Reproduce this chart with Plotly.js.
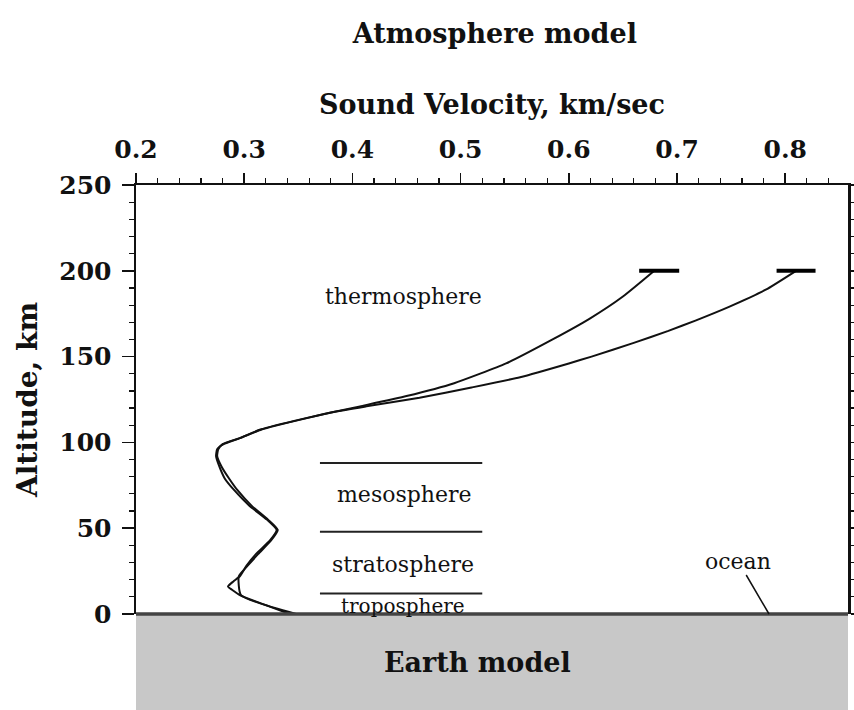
<!DOCTYPE html>
<html>
<head>
<meta charset="utf-8">
<script src="https://cdn.plot.ly/plotly-3.0.1.min.js"></script>
<style>
  html, body { margin: 0; padding: 0; background: #ffffff; }
  #chart { width: 854px; height: 710px; }
</style>
</head>
<body>
<div id="chart"></div>
<script>
// Sound velocity profiles of two atmosphere models (altitude in km, velocity in km/sec)
const altModelA = [0, 11, 14, 16, 19, 22, 28, 35, 43, 49, 55, 63, 72, 79, 86, 92, 96, 99, 102.5, 107.5, 114, 121, 127, 134.5, 146, 160, 172, 185, 200];
const velModelA = [0.342, 0.296, 0.289, 0.285, 0.290, 0.296, 0.302, 0.311, 0.324, 0.330, 0.321, 0.305, 0.291, 0.282, 0.277, 0.274, 0.275, 0.281, 0.296, 0.315, 0.356, 0.407, 0.450, 0.494, 0.542, 0.585, 0.619, 0.650, 0.679];

const altModelB = [0, 11, 22, 28, 35, 43, 49, 55, 63, 72, 79, 86, 92, 96, 99, 102.5, 107.5, 114, 118, 121, 126, 132, 138, 146, 150, 158, 165, 171, 179, 189, 200];
const velModelB = [0.348, 0.297, 0.295, 0.303, 0.313, 0.325, 0.331, 0.322, 0.307, 0.294, 0.286, 0.279, 0.275, 0.276, 0.280, 0.296, 0.316, 0.357, 0.385, 0.413, 0.462, 0.510, 0.555, 0.600, 0.621, 0.660, 0.692, 0.717, 0.748, 0.782, 0.810];

// Horizontal caps at the top of each profile
const capAlt = 200;
const capModelA = [0.665, 0.702];
const capModelB = [0.792, 0.828];

// Layer boundaries and layer names
const boundaryAlt = [88, 48, 12];
const boundaryVel = [0.37, 0.52];
const layerNames = ['thermosphere', 'mesosphere', 'stratosphere', 'troposphere'];
const layerLabelAlt = [185, 69.5, 28.7, 4.8];
const layerLabelVel = [0.447, 0.448, 0.447, 0.447];
const layerLabelSize = [22, 22, 22, 20];

// Sea surface pointer
const oceanVel = 0.785;
const oceanAlt = 0;

// Axis ticks
const velTicks = [0.2, 0.3, 0.4, 0.5, 0.6, 0.7, 0.8];
const velTickText = ['0.2', '0.3', '0.4', '0.5', '0.6', '0.7', '0.8'];
const altTicks = [0, 50, 100, 150, 200, 250];
const altTickText = ['0', '50', '100', '150', '200', '250'];

const serif = 'DejaVu Serif, Liberation Serif, serif';

const traces = [
  { x: velModelA, y: altModelA, mode: 'lines', line: { color: '#111', width: 2, shape: 'spline', smoothing: 0.5 }, hoverinfo: 'skip' },
  { x: velModelB, y: altModelB, mode: 'lines', line: { color: '#111', width: 2, shape: 'spline', smoothing: 0.5 }, hoverinfo: 'skip' },
  { x: capModelA, y: [capAlt, capAlt], mode: 'lines', line: { color: '#000', width: 4 }, hoverinfo: 'skip' },
  { x: capModelB, y: [capAlt, capAlt], mode: 'lines', line: { color: '#000', width: 4 }, hoverinfo: 'skip' }
];
boundaryAlt.forEach(function (a) {
  traces.push({ x: boundaryVel, y: [a, a], mode: 'lines', line: { color: '#222', width: 2 }, hoverinfo: 'skip' });
});

const annotations = layerNames.map(function (name, i) {
  return {
    x: layerLabelVel[i], y: layerLabelAlt[i], xref: 'x', yref: 'y',
    text: name, showarrow: false,
    font: { family: serif, size: layerLabelSize[i], color: '#111' }
  };
});
annotations.push({
  x: oceanVel, y: oceanAlt, xref: 'x', yref: 'y',
  text: 'ocean', showarrow: true, arrowhead: 0, arrowwidth: 1.5, arrowcolor: '#111',
  ax: -31, ay: -53,
  font: { family: serif, size: 22, color: '#111' }
});
annotations.push({
  x: 0.48, y: -0.112, xref: 'paper', yref: 'paper', yanchor: 'middle', xanchor: 'center',
  text: 'Earth model', showarrow: false,
  font: { family: serif, size: 27, color: '#111', weight: 'bold' }
});

const layout = {
  width: 854, height: 710,
  margin: { l: 136, r: 6, t: 185, b: 96 },
  paper_bgcolor: '#ffffff', plot_bgcolor: '#ffffff',
  showlegend: false,
  title: {
    text: 'Atmosphere model', xref: 'paper', x: 0.504, y: 0.953, yanchor: 'middle',
    font: { family: serif, size: 27, color: '#111', weight: 'bold' }
  },
  xaxis: {
    side: 'top', range: [0.2, 0.858],
    tickmode: 'array', tickvals: velTicks, ticktext: velTickText,
    ticks: 'outside', ticklen: 10, tickwidth: 1.5, tickcolor: '#111',
    minor: { dtick: 0.02, tick0: 0.2, ticks: 'outside', ticklen: 5, tickwidth: 1.2, tickcolor: '#111' },
    showline: true, linecolor: '#111', linewidth: 2, mirror: false,
    showgrid: false, zeroline: false,
    ticklabelstandoff: 5,
    tickfont: { family: serif, size: 25, color: '#111', weight: 'bold' },
    title: { text: 'Sound Velocity, km/sec', standoff: 13, font: { family: serif, size: 27, color: '#111', weight: 'bold' } }
  },
  yaxis: {
    range: [0, 250],
    tickmode: 'array', tickvals: altTicks, ticktext: altTickText,
    ticks: 'outside', ticklen: 12, tickwidth: 1.5, tickcolor: '#111',
    minor: { dtick: 10, tick0: 0, ticks: 'outside', ticklen: 5, tickwidth: 1.2, tickcolor: '#111' },
    showline: true, linecolor: '#111', linewidth: 2.5, mirror: 'ticks',
    showgrid: false, zeroline: false,
    ticklabelstandoff: 5,
    tickfont: { family: serif, size: 25, color: '#111', weight: 'bold' },
    title: { text: 'Altitude, km', standoff: 14, font: { family: serif, size: 28, color: '#111', weight: 'bold' } }
  },
  shapes: [
    { type: 'rect', xref: 'paper', yref: 'paper', x0: 0, x1: 1, y0: -0.3, y1: 0, fillcolor: '#c8c8c8', line: { width: 0 }, layer: 'below' },
    { type: 'line', xref: 'paper', yref: 'paper', x0: 0, x1: 1, y0: 0, y1: 0, line: { color: '#444', width: 3.5 } }
  ],
  annotations: annotations
};

Plotly.newPlot('chart', traces, layout, { displayModeBar: false, staticPlot: true });
</script>
</body>
</html>
